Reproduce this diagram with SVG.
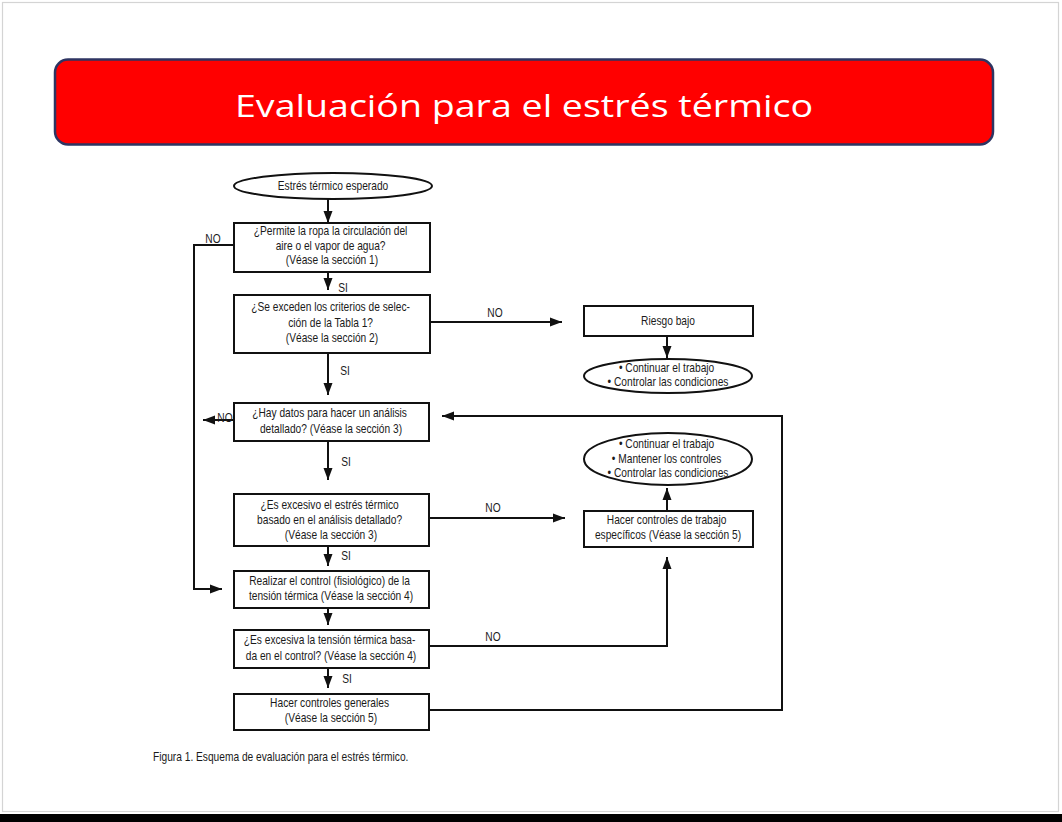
<svg xmlns="http://www.w3.org/2000/svg" width="1062" height="822" viewBox="0 0 1062 822">
  <style>
    .bx { fill: #ffffff; stroke: #111111; stroke-width: 2; }
    .t { font-family: "Liberation Sans", Arial, sans-serif; font-size: 12px; fill: #1a1a1a; text-anchor: middle; }
    .lbl { font-family: "Liberation Sans", Arial, sans-serif; font-size: 12px; fill: #1a1a1a; text-anchor: middle; }
    .cn { fill: none; stroke: #111111; stroke-width: 2; }
    .ar { marker-end: url(#ah); }
  </style>
  <defs>
    <marker id="ah" markerWidth="12" markerHeight="10" refX="12" refY="5" orient="auto" markerUnits="userSpaceOnUse">
      <path d="M0,0.5 L12,5 L0,9.5 z" fill="#111111"/>
    </marker>
  </defs>

  <rect x="0" y="0" width="1062" height="822" fill="#ffffff"/>
  <rect x="2.5" y="2.5" width="1056" height="809" fill="none" stroke="#d4d4d4" stroke-width="1.2"/>
  <rect x="0" y="814" width="1062" height="8" fill="#000000"/>

  <g id="title">
    <rect x="55" y="59.5" width="938" height="85" rx="13" ry="13" fill="#ff0000" stroke="#2e3562" stroke-width="2.5"/>
    <text x="524" y="117" font-family="'Open Sans', 'Noto Sans', sans-serif" font-size="31" fill="#ffffff" text-anchor="middle" textLength="578" lengthAdjust="spacingAndGlyphs">Evaluación para el estrés térmico</text>
  </g>

  <g id="connectors">
    <path class="cn ar" d="M328,199 V223"/>
    <path class="cn ar" d="M328,272 V290"/>
    <path class="cn ar" d="M234,245 H194 V589 H222"/>
    <path class="cn ar" d="M430,322 H562"/>
    <path class="cn ar" d="M667,336 V358"/>
    <path class="cn ar" d="M328,353 V395"/>
    <path class="cn ar" d="M234,420 H203"/>
    <path class="cn ar" d="M429,710 H782 V416 H442"/>
    <path class="cn ar" d="M328,441 V480"/>
    <path class="cn ar" d="M429,518 H565"/>
    <path class="cn ar" d="M667,511 V488"/>
    <path class="cn ar" d="M429,646 H667 V557"/>
    <path class="cn ar" d="M328,546 V566"/>
    <path class="cn ar" d="M328,608 V625"/>
    <path class="cn ar" d="M328,668 V688"/>
    <g>
      <text class="lbl" transform="translate(213,243) scale(0.85 1)">NO</text>
      <text class="lbl" transform="translate(343,292) scale(0.85 1)">SI</text>
      <text class="lbl" transform="translate(495,317) scale(0.85 1)">NO</text>
      <text class="lbl" transform="translate(345,375) scale(0.85 1)">SI</text>
      <text class="lbl" transform="translate(225,422) scale(0.85 1)">NO</text>
      <text class="lbl" transform="translate(346,466) scale(0.85 1)">SI</text>
      <text class="lbl" transform="translate(493,512) scale(0.85 1)">NO</text>
      <text class="lbl" transform="translate(346,560) scale(0.85 1)">SI</text>
      <text class="lbl" transform="translate(493,641) scale(0.85 1)">NO</text>
      <text class="lbl" transform="translate(347,683) scale(0.85 1)">SI</text>
    </g>
  </g>

  <g id="start">
    <ellipse class="bx" cx="333" cy="186" rx="99" ry="13"/>
    <text class="t" transform="translate(333,190) scale(0.85 1)">Estrés térmico esperado</text>
  </g>

  <g id="q1">
    <rect class="bx" x="234" y="223" width="196" height="49"/>
    <text class="t" transform="translate(332,235) scale(0.85 1)">
      <tspan x="0" y="0">¿Permite la ropa la circulación del</tspan>
      <tspan x="0" y="15">aire o el vapor de agua?</tspan>
      <tspan x="0" y="29">(Véase la sección 1)</tspan>
    </text>
  </g>

  <g id="q2">
    <rect class="bx" x="234" y="295" width="196" height="58"/>
    <text class="t" transform="translate(332,311) scale(0.85 1)">
      <tspan x="0" y="0">¿Se exceden los criterios de selec-</tspan>
      <tspan x="0" y="16">ción de la Tabla 1?</tspan>
      <tspan x="0" y="31">(Véase la sección 2)</tspan>
    </text>
  </g>

  <g id="riesgo">
    <rect class="bx" x="584" y="306" width="169" height="30"/>
    <text class="t" transform="translate(668,325) scale(0.85 1)">Riesgo bajo</text>
  </g>

  <g id="result1">
    <ellipse class="bx" cx="668" cy="376" rx="84" ry="17"/>
    <text class="t" transform="translate(668,372) scale(0.85 1)">
      <tspan x="0" y="0">• Continuar el trabajo</tspan>
      <tspan x="0" y="14">• Controlar las condiciones</tspan>
    </text>
  </g>

  <g id="q3">
    <rect class="bx" x="234" y="403" width="195" height="38"/>
    <text class="t" transform="translate(331,417) scale(0.85 1)">
      <tspan x="0" y="0">¿Hay datos para hacer un análisis</tspan>
      <tspan x="0" y="16">detallado? (Véase la sección 3)</tspan>
    </text>
  </g>

  <g id="result2">
    <ellipse class="bx" cx="668" cy="459" rx="84" ry="26"/>
    <text class="t" transform="translate(668,448) scale(0.85 1)">
      <tspan x="0" y="0">• Continuar el trabajo</tspan>
      <tspan x="0" y="15">• Mantener los controles</tspan>
      <tspan x="0" y="29">• Controlar las condiciones</tspan>
    </text>
  </g>

  <g id="q4">
    <rect class="bx" x="234" y="494" width="195" height="52"/>
    <text class="t" transform="translate(331,509) scale(0.85 1)">
      <tspan x="0" y="0">¿Es excesivo el estrés térmico</tspan>
      <tspan x="0" y="15">basado en el análisis detallado?</tspan>
      <tspan x="0" y="30">(Véase la sección 3)</tspan>
    </text>
  </g>

  <g id="especificos">
    <rect class="bx" x="584" y="511" width="169" height="36"/>
    <text class="t" transform="translate(668,524) scale(0.85 1)">
      <tspan x="0" y="0">Hacer controles de trabajo</tspan>
      <tspan x="0" y="15">específicos (Véase la sección 5)</tspan>
    </text>
  </g>

  <g id="control">
    <rect class="bx" x="234" y="571" width="195" height="37"/>
    <text class="t" transform="translate(331,585) scale(0.85 1)">
      <tspan x="0" y="0">Realizar el control (fisiológico) de la</tspan>
      <tspan x="0" y="15">tensión térmica (Véase la sección 4)</tspan>
    </text>
  </g>

  <g id="q5">
    <rect class="bx" x="234" y="630" width="195" height="38"/>
    <text class="t" transform="translate(331,644) scale(0.85 1)">
      <tspan x="0" y="0">¿Es excesiva la tensión térmica basa-</tspan>
      <tspan x="0" y="16">da en el control? (Véase la sección 4)</tspan>
    </text>
  </g>

  <g id="generales">
    <rect class="bx" x="234" y="694" width="195" height="36"/>
    <text class="t" transform="translate(331,707) scale(0.85 1)">
      <tspan x="0" y="0">Hacer controles generales</tspan>
      <tspan x="0" y="15">(Véase la sección 5)</tspan>
    </text>
  </g>

  <g id="caption">
    <text transform="translate(153,761) scale(0.85 1)" font-family="'Liberation Sans', Arial, sans-serif" font-size="12" fill="#1a1a1a">Figura 1. Esquema de evaluación para el estrés térmico.</text>
  </g>
</svg>
